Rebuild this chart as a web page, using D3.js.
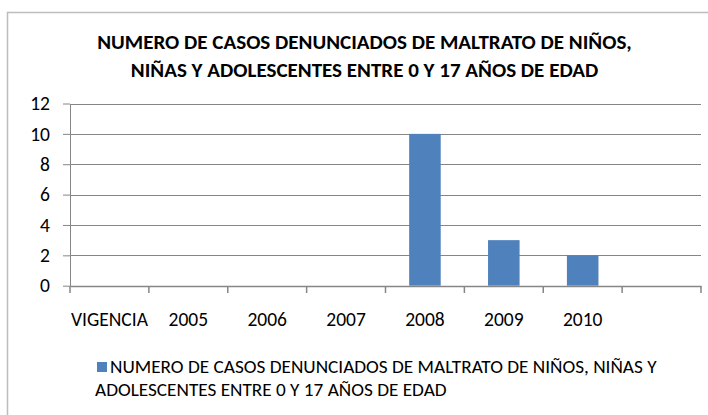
<!DOCTYPE html>
<html>
<head>
<meta charset="utf-8">
<script src="https://cdn.jsdelivr.net/npm/d3@7"></script>
<style>
  body { margin: 0; background: #fff; }
  text { font-family: Carlito, Lato, "Open Sans", sans-serif; fill: #000; }
</style>
</head>
<body>
<svg id="chart" width="708" height="415"></svg>
<script>
// data
const categories = ["VIGENCIA", "2005", "2006", "2007", "2008", "2009", "2010", ""];
const casos = [null, null, null, null, 10, 3, 2, null];
const yTicks = [0, 2, 4, 6, 8, 10, 12];
const titleLines = [
  "NUMERO DE CASOS DENUNCIADOS DE MALTRATO DE NIÑOS,",
  "NIÑAS Y ADOLESCENTES ENTRE 0 Y 17 AÑOS DE EDAD"
];
const legendLines = [
  "NUMERO DE CASOS DENUNCIADOS DE MALTRATO DE NIÑOS, NIÑAS Y",
  "ADOLESCENTES ENTRE 0 Y 17 AÑOS DE EDAD"
];

// constants
const plot = { left: 70, right: 701, top: 103.5, bottom: 285.7 };
const gridColor = "#868686";
const barColor = "#4F81BD";

const svg = d3.select("#chart");

// chart frame (runs off the right / bottom edge)
svg.append("rect")
  .attr("x", 7.5).attr("y", 12.5)
  .attr("width", 720).attr("height", 430)
  .attr("fill", "none")
  .attr("stroke", "#bdbdbd")
  .attr("stroke-width", 1.5);

// font size that makes node span target px; applied to the whole selection
function fitSize(node, target, sel) {
  const fs = parseFloat(d3.select(node).style("font-size"));
  const size = fs * target / node.getComputedTextLength();
  sel.style("font-size", size + "px");
}

// title
const titleBase = [49, 77];
const title = svg.append("g").selectAll("text")
  .data(titleLines)
  .join("text")
    .attr("x", 364.5).attr("y", (d, i) => titleBase[i])
    .attr("text-anchor", "middle")
    .style("font-weight", "bold")
    .style("font-size", "20px")
    .text(d => d);
fitSize(title.node(), 535, title);

// scales
const x = d3.scaleBand()
  .domain(categories)
  .range([plot.left, plot.right])
  .paddingInner(0.6)
  .paddingOuter(0.3);

const y = d3.scaleLinear()
  .domain([0, 12])
  .range([plot.bottom, plot.top]);

// gridlines
svg.append("g")
  .selectAll("line")
  .data(yTicks.filter(d => d > 0))
  .join("line")
    .attr("x1", plot.left).attr("x2", plot.right)
    .attr("y1", d => Math.round(y(d)) + 0.5)
    .attr("y2", d => Math.round(y(d)) + 0.5)
    .attr("stroke", gridColor)
    .attr("stroke-width", 1);

// bars
svg.append("g")
  .selectAll("rect")
  .data(categories.map((c, i) => ({ c, v: casos[i] })).filter(d => d.v != null))
  .join("rect")
    .attr("x", d => x(d.c))
    .attr("width", x.bandwidth())
    .attr("y", d => y(d.v))
    .attr("height", d => y(0) - y(d.v))
    .attr("fill", barColor);

// x axis: labels centered in categories, ticks on category boundaries
const xAxis = svg.append("g")
  .attr("transform", "translate(0," + Math.round(y(0)) + ")")
  .call(d3.axisBottom(x).tickSize(0).tickPadding(26).tickSizeOuter(0));
xAxis.select(".domain").attr("stroke", gridColor).attr("stroke-width", 1.5);
const xLabels = xAxis.selectAll("text").style("font-size", "17px").attr("fill", "#000");
fitSize(xLabels.node(), 77, xLabels);
const axisFont = xLabels.style("font-size");

xAxis.append("g")
  .selectAll("line")
  .data(d3.range(categories.length + 1))
  .join("line")
    .attr("x1", i => plot.left + i * x.step())
    .attr("x2", i => plot.left + i * x.step())
    .attr("y1", 0).attr("y2", 7)
    .attr("stroke", gridColor)
    .attr("stroke-width", 1.5);

// y axis
const yAxis = svg.append("g")
  .attr("transform", "translate(" + plot.left + ",0)")
  .call(d3.axisLeft(y).tickValues(yTicks).tickSize(7).tickPadding(13).tickSizeOuter(0));
yAxis.select(".domain").attr("stroke", gridColor);
yAxis.selectAll(".tick line").attr("stroke", gridColor);
yAxis.selectAll("text").style("font-size", axisFont).attr("fill", "#000");

// legend
const legend = svg.append("g");
legend.append("rect")
  .attr("x", 97).attr("y", 362)
  .attr("width", 10).attr("height", 10)
  .attr("fill", barColor);
const legendX = [110, 95];
const legendBase = [373, 396];
const legendText = legend.selectAll("text")
  .data(legendLines)
  .join("text")
    .attr("x", (d, i) => legendX[i]).attr("y", (d, i) => legendBase[i])
    .style("font-size", "17px")
    .text(d => d);
fitSize(legendText.node(), 547, legendText);
</script>
</body>
</html>
